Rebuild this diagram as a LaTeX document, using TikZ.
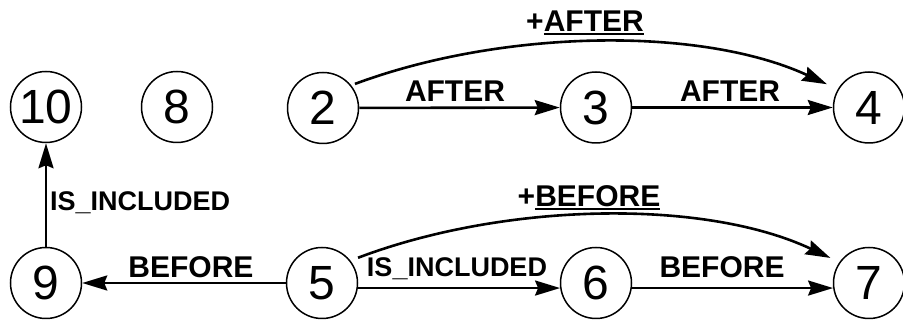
\documentclass[tikz,border=0pt]{standalone}
\usepackage{fontspec}
\setmainfont{Liberation Sans}
\usetikzlibrary{arrows.meta,calc}

% underline a word with a firm rule just below the baseline
\newcommand\ulword[1]{\setbox0\hbox{#1}\rlap{\rule[-3pt]{\wd0}{1.6pt}}\box0}

\begin{document}
\begin{tikzpicture}[x=1pt,y=-1pt,
  event/.style={circle,draw,line width=1.5pt,inner sep=0pt,minimum size=71pt,
    font=\fontsize{48}{50}\selectfont},
  rel/.style={line width=2.6pt,-{Stealth[length=25pt,width=15pt,inset=3pt]}},
  lbl/.style={anchor=base,inner sep=0pt,font=\fontsize{30}{32}\selectfont\bfseries},
  lblsmall/.style={anchor=base,inner sep=0pt,font=\fontsize{27}{29}\selectfont\bfseries}]
\useasboundingbox (0,0) rectangle (903,320);

% events
\node[event] (n10) at (46,107) {10};
\node[event] (n8)  at (177,107) {8};
\node[event] (n2)  at (323,108) {2};
\node[event] (n3)  at (596,107.5) {3};
\node[event] (n4)  at (869,107.5) {4};
\node[event] (n9)  at (46,283) {9};
\node[event] (n5)  at (322,283) {5};
\node[event] (n6)  at (596,283) {6};
\node[event] (n7)  at (869,283) {7};

% relations (y grows downwards, so upward polar offsets use negative angles)
\draw[rel] (n2) -- (n3);
\draw[rel] (n3) -- (n4);
\draw[rel] ($(n2.center)+(-37:40)$) .. controls +(145,-54) and +(-128,-59) .. ($(n4.center)+(-151:48)$);
\draw[rel] (n5) -- (n9);
\draw[rel] (n9) -- (n10);
\draw[rel] (n5.-8) -- (n6.188);
\draw[rel] (n6.-8) -- (n7.188);
\draw[rel] ($(n5.center)+(-35:44)$) .. controls +(145,-55) and +(-128,-60) .. ($(n7.center)+(-147:46)$);

% relation labels
\node[lbl] (l23) at (455,102) {AFTER};
\node[lbl] (l34) at (730,102) {AFTER};
\node[lbl] (l24) at (585,32) {+\ulword{AFTER}};
\node[lblsmall,anchor=base west] (l910) at (50,211) {IS\_INCLUDED};
\node[lbl] (l59) at (191,278) {BEFORE};
\node[lblsmall] (l56) at (457,277) {IS\_INCLUDED};
\node[lbl] (l67) at (722,278) {BEFORE};
\node[lbl] (l57) at (589,207) {+\ulword{BEFORE}};
\end{tikzpicture}
\end{document}
